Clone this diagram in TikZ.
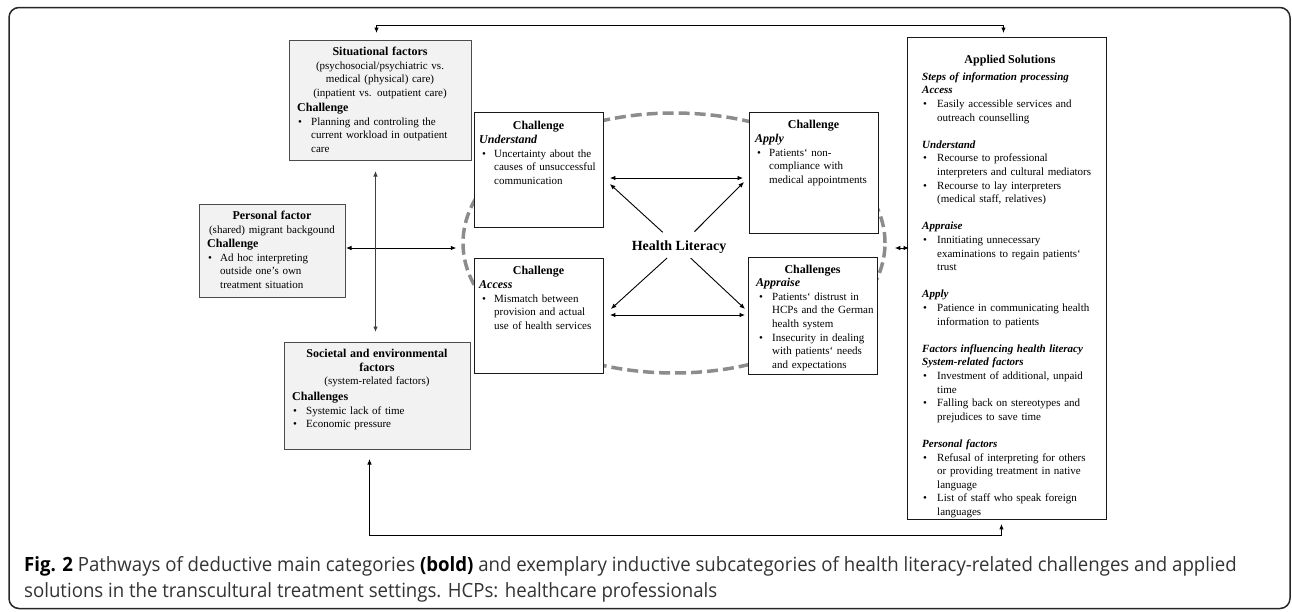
\documentclass[tikz,border=0pt]{standalone}
\usepackage{fontspec}
\setmainfont{Liberation Serif}
\newfontfamily\capfont[FakeStretch=0.95]{Open Sans}
\usetikzlibrary{arrows.meta,shapes.geometric,calc}
\newlength\bulind
\newlength\txtind
\newcommand\bi[2]{\setlength\bulind{#1pt}\setlength\txtind{#2pt}\parindent=0pt}
\newcommand\bl{\noindent\strut\hspace*{\bulind}\makebox[\dimexpr\txtind-\bulind\relax][l]{\textbullet}}
\newcommand\ind{\noindent\strut\hspace*{\txtind}}
\newcommand\hb[1]{\strut{\fontsize{12}{13.6}\selectfont\bfseries #1}}
\newcommand\hbi[1]{\strut{\fontsize{12}{13.6}\selectfont\bfseries\itshape #1}}
\newcommand\hsi[1]{\noindent\strut{\bfseries\itshape #1}}
\newcommand\blank{\noindent\strut}
\tikzset{
  gbox/.style={draw=black!70, fill=black!5, line width=1pt, inner sep=0, anchor=north west},
  wbox/.style={draw=black!90, fill=white, line width=0.9pt, inner sep=0, anchor=north west},
  body/.style={anchor=north west, inner sep=0, text width=300pt, align=left, font=\fontsize{11}{13.6}\selectfont},
  ctr/.style={anchor=north, inner sep=0, text width=180pt, align=center, font=\fontsize{11}{13.6}\selectfont},
  ttl/.style={anchor=base, inner sep=0, font=\fontsize{12}{13.6}\selectfont\bfseries},
  conn/.style={line width=0.9pt, draw=black},
  dbl/.style={conn, {Latex[length=5.5pt,width=4.5pt]}-{Latex[length=5.5pt,width=4.5pt]}},
  sgl/.style={conn, -{Latex[length=5.5pt,width=4.5pt]}},
  ring/.style={draw=black!45, line width=3.5pt, dash pattern=on 11pt off 5pt, ellipse, inner sep=0},
  frame/.style={draw=black!85, line width=1.5pt, rounded corners=10pt},
  capt/.style={anchor=base west, inner sep=0, text=black!80, font=\capfont\fontsize{19.6}{30}\selectfont}
}
\begin{document}
\begin{tikzpicture}[x=1pt,y=-1pt]
\useasboundingbox (0,0) rectangle (1292,611);
\draw[frame] (9,7.5) rectangle (1290,608.5);

% health literacy ring
\node[ring, minimum width=422pt, minimum height=260pt] (ring) at (674,243) {};
\node[anchor=base, inner sep=0, font=\fontsize{14}{16}\selectfont\bfseries] (hl) at (679,250.5) {Health Literacy};

% boxes
\node[gbox, minimum width=182pt, minimum height=120pt] (sit) at (289,40) {};
\node[gbox, minimum width=146pt, minimum height=93pt] (pers) at (199,204) {};
\node[gbox, minimum width=186pt, minimum height=107pt] (soc) at (284,342) {};
\node[wbox, minimum width=129pt, minimum height=115pt] (und) at (474,112) {};
\node[wbox, minimum width=129pt, minimum height=121pt] (app) at (749,112) {};
\node[wbox, minimum width=129pt, minimum height=115pt] (acc) at (474,258) {};
\node[wbox, minimum width=129pt, minimum height=117pt] (apr) at (748,257) {};
\node[wbox, minimum width=199pt, minimum height=482pt] (appl) at (907,37) {};

% texts
\node[ctr] (sitT) at (380,46) {\hb{Situational factors}\\(psychosocial/psychiatric vs.\\medical (physical) care)\\(inpatient vs. outpatient care)};
\node[body] (sitB) at (297,102) {\bi{1}{14}\noindent\hb{Challenge}\par\bl Planning and controling the\par\ind current workload in outpatient\par\ind care};

\node[ctr] (persT) at (272,210) {\hb{Personal factor}\\(shared) migrant backgound};
\node[body] (persB) at (207,238) {\bi{1}{13}\noindent\hb{Challenge}\par\bl Ad hoc interpreting\par\ind outside one’s own\par\ind treatment situation};

\node[ctr] (socT) at (377,348) {\hb{Societal and environmental}\\\hb{factors}\\(system-related factors)};
\node[body] (socB) at (292,391) {\bi{1}{14}\noindent\hb{Challenges}\par\bl Systemic lack of time\par\bl Economic pressure};

\node[ttl] (undT) at (538.5,129) {Challenge};
\node[body] (undB) at (479,134) {\bi{3}{15}\noindent\hbi{Understand}\par\bl Uncertainty about the\par\ind causes of unsuccessful\par\ind communication};

\node[ttl] (appT) at (813.5,128) {Challenge};
\node[body] (appB) at (755,133) {\bi{2}{14}\noindent\hbi{Apply}\par\bl Patients‘ non-\par\ind compliance with\par\ind medical appointments};

\node[ttl] (accT) at (538.5,274) {Challenge};
\node[body] (accB) at (479,279) {\bi{3}{15}\noindent\hbi{Access}\par\bl Mismatch between\par\ind provision and actual\par\ind use of health services};

\node[ttl] (aprT) at (812.5,273) {Challenges};
\node[body] (aprB) at (756,277) {\bi{3}{16}\noindent\hbi{Appraise}\par\bl Patients‘ distrust in\par\ind HCPs and the German\par\ind health system\par\bl Insecurity in dealing\par\ind with patients‘ needs\par\ind and expectations};

\node[ttl] (applT) at (1010,63) {Applied Solutions};
\node[body] (applB) at (922,70.5) {\bi{1}{15}%
\hsi{Steps of information processing}\par
\hsi{Access}\par
\bl Easily accessible services and\par
\ind outreach counselling\par
\blank\par
\hsi{Understand}\par
\bl Recourse to professional\par
\ind interpreters and cultural mediators\par
\bl Recourse to lay interpreters\par
\ind (medical staff, relatives)\par
\blank\par
\hsi{Appraise}\par
\bl Innitiating unnecessary\par
\ind examinations to regain patients‘\par
\ind trust\par
\blank\par
\hsi{Apply}\par
\bl Patience in communicating health\par
\ind information to patients\par
\blank\par
\hsi{Factors influencing health literacy}\par
\hsi{System-related factors}\par
\bl Investment of additional, unpaid\par
\ind time\par
\bl Falling back on stereotypes and\par
\ind prejudices to save time\par
\blank\par
\hsi{Personal factors}\par
\bl Refusal of interpreting for others\par
\ind or providing treatment in native\par
\ind language\par
\bl List of staff who speak foreign\par
\ind languages};

% level coordinates
\coordinate (yA) at (0,178);
\coordinate (yB) at (0,315);
\coordinate (yC) at (0,248);
\coordinate (yD) at (0,184);
\coordinate (yE) at (0,182);
\coordinate (yF) at (0,309);

% connectors in the centre
\draw[dbl, shorten <=6pt, shorten >=6pt] (und.east |- yA) -- (app.west |- yA);
\draw[dbl, shorten <=6pt, shorten >=3pt] (acc.east |- yB) -- (apr.west |- yB);
\draw[sgl, shorten <=22pt] (hl.center) -- ($(und.east |- yD)+(6,0)$);
\draw[sgl, shorten <=22pt] (hl.center) -- ($(app.west |- yE)+(-5,0)$);
\draw[sgl, shorten <=16pt] (hl.center) -- ($(acc.east |- yF)+(7,0)$);
\draw[sgl, shorten <=16pt] (hl.center) -- ($(apr.west |- yF)+(-3,0)$);

% side connectors
\draw[dbl, shorten >=5pt] (pers.east |- yC) -- (ring.west |- yC);
\draw[dbl, shorten <=8pt, shorten >=-2pt] (ring.east |- yC) -- (appl.west |- yC);
\draw[dbl, draw=black!75, shorten <=10pt, shorten >=10pt] ($(sit.south)+(-5,0)$) -- ($(sit.south |- soc.north)+(-5,0)$);
\draw[dbl, shorten <=7pt, shorten >=4pt] ($(sit.north)+(-4,0)$) |- ($(appl.north)+(-3.5,-12)$) -- ($(appl.north)+(-3.5,0)$);
\draw[dbl, shorten <=9pt, shorten >=4pt] ($(soc.south)+(-8,0)$) |- ($(appl.south)+(-5.5,16)$) -- ($(appl.south)+(-5.5,0)$);

% caption
\node[capt] (cap1) at (24,571.5) {{\color{black}\bfseries Fig. 2} Pathways of deductive main categories {\color{black}\bfseries (bold)} and exemplary inductive subcategories of health literacy-related challenges and applied};
\node[capt] (cap2) at (24,597.5) {solutions in the transcultural treatment settings. HCPs: healthcare professionals};
\end{tikzpicture}
\end{document}
